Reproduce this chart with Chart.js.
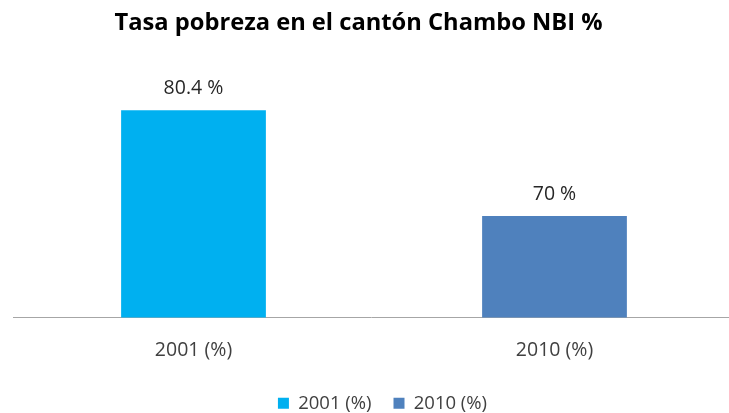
<!DOCTYPE html>
<html>
<head>
<meta charset="utf-8">
<script src="https://cdn.jsdelivr.net/npm/chart.js@4/dist/chart.umd.min.js"></script>
<style>
  html, body { margin: 0; padding: 0; background: #fff; }
  #wrap { width: 729px; height: 413px; }
</style>
</head>
<body>
<div id="wrap"><canvas id="chart"></canvas></div>
<script>
// data
const categories = ['2001 (%)', '2010 (%)'];
const seriesNames = ['2001 (%)', '2010 (%)'];
const values2001 = [80.4, null];
const values2010 = [null, 70];
const valueLabels = ['80.4 %', '70 %'];

const FONT = "'Open Sans', 'Noto Sans', sans-serif";

// draws the value text above each bar
const barLabels = {
  id: 'barLabels',
  afterDatasetsDraw(chart) {
    const ctx = chart.ctx;
    ctx.save();
    ctx.font = '19.5px ' + FONT;
    ctx.fillStyle = '#262626';
    ctx.textAlign = 'center';
    ctx.textBaseline = 'alphabetic';
    chart.data.datasets.forEach((ds, i) => {
      chart.getDatasetMeta(i).data.forEach((bar, j) => {
        if (ds.data[j] == null) return;
        ctx.fillText(valueLabels[j], bar.x, bar.y - 16);
      });
    });
    ctx.restore();
  }
};

// nudges title, legend and x scale to where they sit in the original
const layoutNudge = {
  id: 'layoutNudge',
  afterLayout(chart) {
    const t = chart.titleBlock;
    t.left -= 12.5; t.right -= 12.5;
    const lg = chart.legend;
    lg.left += 11.5; lg.right += 11.5;
    lg.top -= 12;
    const x = chart.scales.x;
    x.right += 6; x.width += 6;
    x.configure();
  }
};

new Chart(document.getElementById('chart'), {
  type: 'bar',
  data: {
    labels: categories,
    datasets: [
      {
        label: seriesNames[0],
        data: values2001,
        backgroundColor: '#00B0F0',
        skipNull: true
      },
      {
        label: seriesNames[1],
        data: values2010,
        backgroundColor: '#4F81BD',
        skipNull: true
      }
    ]
  },
  options: {
    responsive: true,
    maintainAspectRatio: false,
    animation: false,
    categoryPercentage: 1,
    barPercentage: 0.401,
    layout: { padding: { left: 13, right: 0, top: 4, bottom: 0 } },
    plugins: {
      title: {
        display: true,
        text: 'Tasa pobreza en el cantón Chambo NBI %',
        color: '#000',
        font: { family: FONT, size: 23.7, weight: 'bold' },
        padding: { top: 5, bottom: 26 }
      },
      legend: {
        position: 'bottom',
        maxHeight: 29,
        labels: {
          color: '#404040',
          font: { family: FONT, size: 18.5 },
          boxWidth: 11,
          boxHeight: 11,
          padding: 22
        }
      },
      tooltip: { enabled: false }
    },
    scales: {
      x: {
        grid: { display: false, drawTicks: false },
        border: { color: '#A6A6A6', width: 1 },
        ticks: {
          color: '#404040',
          font: { family: FONT, size: 19.5 },
          padding: 21.5
        }
      },
      y: {
        display: false,
        min: 60,
        max: 85
      }
    }
  },
  plugins: [barLabels, layoutNudge]
});
</script>
</body>
</html>
